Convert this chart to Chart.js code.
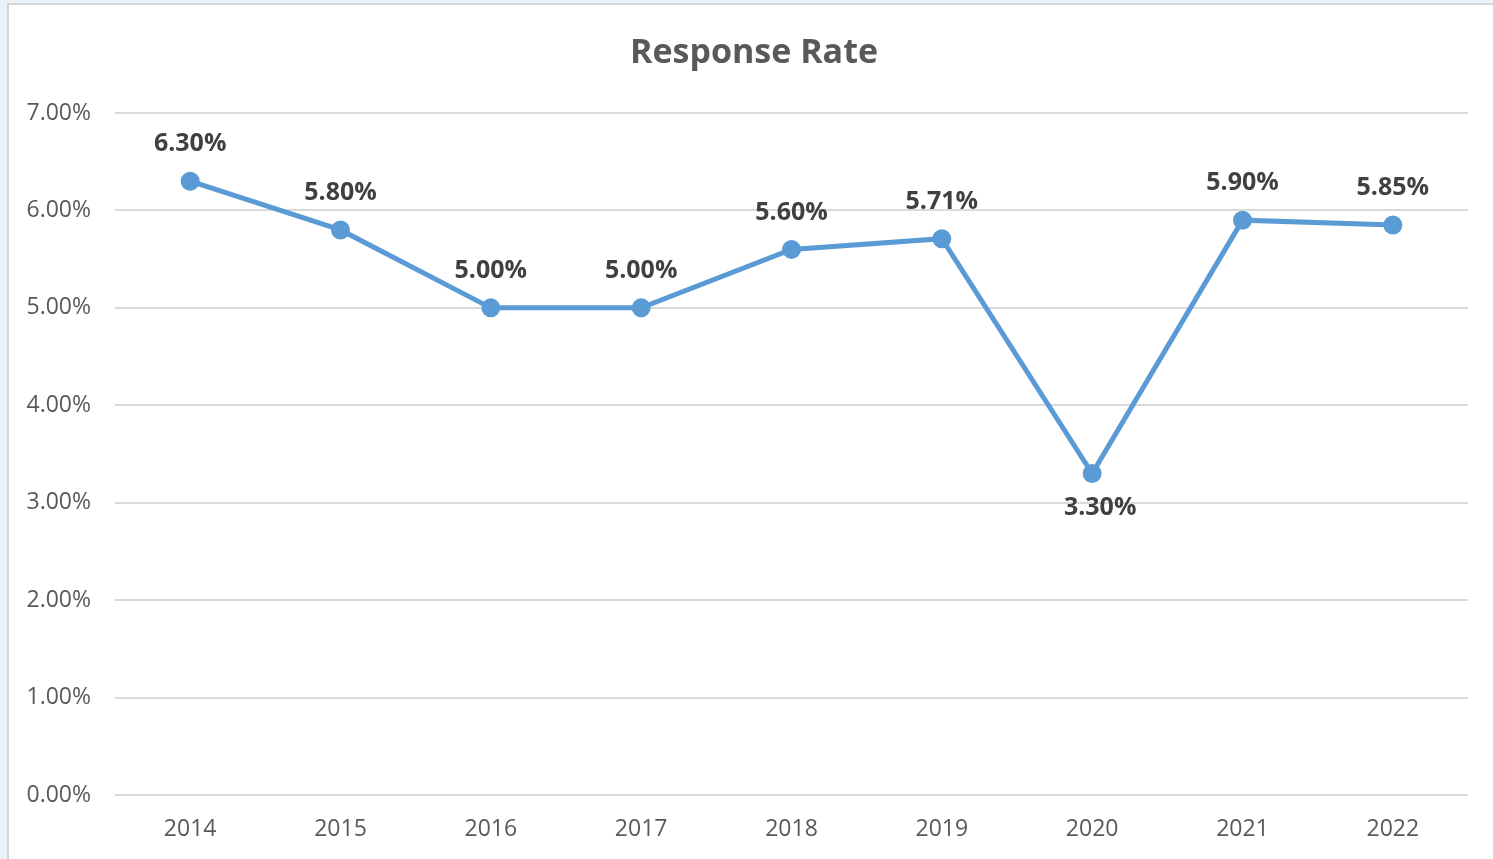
<!DOCTYPE html>
<html>
<head>
<meta charset="utf-8">
<title>Response Rate</title>
<script src="https://cdn.jsdelivr.net/npm/chart.js@4/dist/chart.umd.min.js"></script>
<style>
  html, body { margin: 0; padding: 0; }
  body { width: 1493px; height: 859px; background: #e9f2f8; overflow: hidden; position: relative; }
  #marco {
    position: absolute; left: 7px; top: 3px; width: 1500px; height: 870px;
    background: #fff; border: 2px solid #d6d6d6; box-sizing: border-box;
  }
  #grafico { position: absolute; left: 0; top: 0; }
</style>
</head>
<body>
<div id="marco"></div>
<canvas id="grafico" width="1493" height="859"></canvas>
<script>
const anos = ["2014", "2015", "2016", "2017", "2018", "2019", "2020", "2021", "2022"];
const taxaResposta = [6.30, 5.80, 5.00, 5.00, 5.60, 5.71, 3.30, 5.90, 5.85];
const ticksY = [0, 1, 2, 3, 4, 5, 6, 7];
const titulo = "Response Rate";

// título centrado na moldura e rótulos de valor sobre cada ponto
// (o ponto mais baixo recebe o rótulo por baixo)
const rotulosValor = {
  id: "rotulosValor",
  afterDraw(chart) {
    const ctx = chart.ctx;
    ctx.save();
    ctx.font = "bold 34px 'Open Sans'";
    ctx.fillStyle = "#595959";
    ctx.textAlign = "center";
    ctx.textBaseline = "middle";
    ctx.fillText(titulo, 754, 53);
    ctx.restore();
  },
  afterDatasetsDraw(chart) {
    const ctx = chart.ctx;
    const meta = chart.getDatasetMeta(0);
    const dados = chart.data.datasets[0].data;
    const minimo = Math.min(...dados);
    ctx.save();
    ctx.font = "bold 25px 'Open Sans'";
    ctx.fillStyle = "#404040";
    ctx.textAlign = "center";
    ctx.textBaseline = "middle";
    meta.data.forEach((p, i) => {
      const abaixo = dados[i] === minimo;
      const y = abaixo ? p.y + 34 : p.y - 37;
      const x = abaixo ? p.x + 8 : p.x;
      ctx.fillText(dados[i].toFixed(2) + "%", x, y);
    });
    ctx.restore();
  }
};

const ctx = document.getElementById("grafico").getContext("2d");
const chart = new Chart(ctx, {
  type: "line",
  data: {
    labels: anos,
    datasets: [{
      label: titulo,
      data: taxaResposta,
      borderColor: "#5b9bd5",
      backgroundColor: "#5b9bd5",
      borderWidth: 5,
      pointRadius: 7,
      pointHoverRadius: 7,
      tension: 0,
      fill: false
    }]
  },
  options: {
    responsive: false,
    animation: false,
    layout: { padding: { top: 113, right: 25, bottom: 0, left: 0 } },
    plugins: {
      legend: { display: false },
      tooltip: { enabled: false },
      title: { display: false }
    },
    scales: {
      x: {
        offset: true,
        grid: { display: false, drawTicks: false },
        border: { display: false },
        ticks: {
          color: "#595959",
          font: { family: "'Open Sans'", size: 23 },
          padding: 21
        },
        afterFit(s) { s.height = 64; }
      },
      y: {
        min: 0,
        max: 7,
        afterBuildTicks(s) { s.ticks = ticksY.map(v => ({ value: v })); },
        grid: { color: "#d9d9d9", lineWidth: 2, drawTicks: false },
        border: { display: false },
        ticks: {
          color: "#595959",
          font: { family: "'Open Sans'", size: 23 },
          padding: 24,
          callback: v => v.toFixed(2) + "%"
        },
        afterFit(s) { s.width = 115; }
      }
    }
  },
  plugins: [rotulosValor]
});
</script>
</body>
</html>
